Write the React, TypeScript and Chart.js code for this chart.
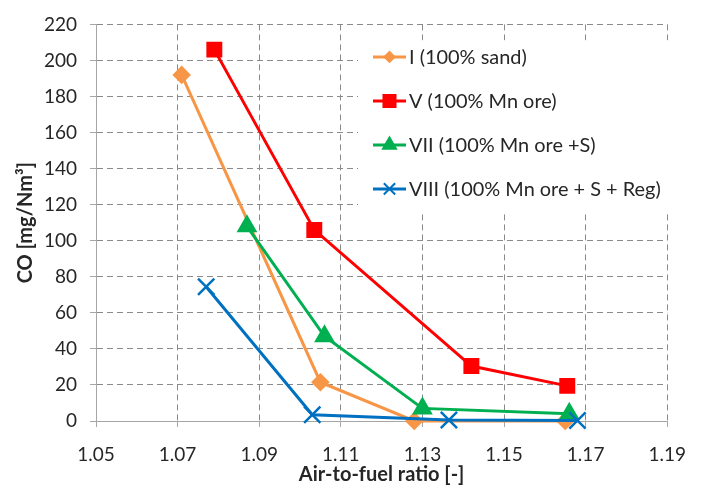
import React, { useEffect, useRef } from 'react';
import { Chart, registerables } from 'chart.js';
import { drawPoint } from 'chart.js/helpers';

Chart.register(...registerables);

// ---- data ----
const seriesLabels = [
  'I (100% sand)',
  'V (100% Mn ore)',
  'VII (100% Mn ore +S)',
  'VIII (100% Mn ore + S + Reg)',
];
const sandX = [1.071, 1.105, 1.128, 1.165];
const sandY = [192, 21.5, 0, 0];
const mnOreX = [1.079, 1.1035, 1.142, 1.1655];
const mnOreY = [206, 106, 30.5, 19.5];
const mnOreSX = [1.087, 1.106, 1.13, 1.166];
const mnOreSY = [108, 47, 7, 4];
const mnOreSRegX = [1.077, 1.103, 1.1365, 1.168];
const mnOreSRegY = [74.5, 3.5, 0.5, 0.3];

const xMin = 1.05;
const xMax = 1.19;
const xStep = 0.02;
const yMin = 0;
const yMax = 220;
const yStep = 20;

const xTitle = 'Air-to-fuel ratio [-]';
const yTitle = 'CO [mg/Nm³]';

const colors = ['#F79646', '#FF0000', '#00B050', '#0070C0'];
const pointStyles = ['rectRot', 'rect', 'triangle', 'crossRot'];
const pointRadii = [7.5, 9.5, 9.5, 11.5];
const legendRadii = [5, 8.5, 7.5, 8];

const FONT = 'Lato, "Open Sans", sans-serif';

function toPoints(xs: number[], ys: number[]) {
  return xs.map((x, i) => ({ x, y: ys[i] }));
}

const legendPlugin = {
  id: 'boxLegend',
  afterDraw(chart: any) {
    const ctx = chart.ctx as CanvasRenderingContext2D;
    const area = chart.chartArea;
    const boxLeft = area.left + 262;
    const boxTop = area.top + 16;
    const boxW = 318;
    const boxH = 172;
    ctx.save();
    ctx.fillStyle = '#ffffff';
    ctx.fillRect(boxLeft, boxTop, boxW, boxH);

    const longest = seriesLabels[3];
    ctx.font = `100px ${FONT}`;
    const w100 = ctx.measureText(longest).width;
    const fs = (100 * 252) / w100;

    seriesLabels.forEach((label, i) => {
      const cy = boxTop + 16.5 + i * 44;
      const lx0 = boxLeft + 15;
      const lx1 = boxLeft + 48;
      ctx.strokeStyle = colors[i];
      ctx.lineWidth = 3;
      ctx.setLineDash([]);
      ctx.beginPath();
      ctx.moveTo(lx0, cy);
      ctx.lineTo(lx1, cy);
      ctx.stroke();
      ctx.fillStyle = colors[i];
      ctx.strokeStyle = colors[i];
      ctx.lineWidth = 2;
      drawPoint(
        ctx,
        { pointStyle: pointStyles[i] as any, radius: legendRadii[i], rotation: 0, borderWidth: 2 } as any,
        (lx0 + lx1) / 2,
        cy
      );
      ctx.fillStyle = '#262626';
      ctx.font = `${fs}px ${FONT}`;
      ctx.textAlign = 'left';
      ctx.textBaseline = 'middle';
      ctx.fillText(label, lx1 + 3, cy + 1);
    });
    ctx.restore();
  },
};

export default function App() {
  const ref = useRef<HTMLCanvasElement | null>(null);

  useEffect(() => {
    if (!ref.current) return;
    const xs = [sandX, mnOreX, mnOreSX, mnOreSRegX];
    const ys = [sandY, mnOreY, mnOreSY, mnOreSRegY];
    const orders = [3, 2, 1, 0];
    const datasets = seriesLabels.map((label, i) => ({
      label,
      data: toPoints(xs[i], ys[i]),
      borderColor: colors[i],
      backgroundColor: colors[i],
      pointBackgroundColor: colors[i],
      pointBorderColor: colors[i],
      pointStyle: pointStyles[i],
      pointRadius: pointRadii[i],
      pointBorderWidth: 2.5,
      borderWidth: 3,
      showLine: true,
      tension: 0,
      clip: false as any,
      order: orders[i],
    }));

    const gridColor = '#8a8a8a';
    const axisColor = '#a6a6a6';

    const chart = new Chart(ref.current, {
      type: 'scatter',
      data: { datasets },
      plugins: [legendPlugin],
      options: {
        responsive: false,
        animation: false,
        maintainAspectRatio: false,
        layout: { padding: { left: 0, right: 22, top: 17, bottom: 0 } },
        plugins: {
          legend: { display: false },
          tooltip: { enabled: false },
        },
        scales: {
          x: {
            type: 'linear',
            min: xMin,
            max: xMax,
            ticks: {
              stepSize: xStep,
              padding: 16,
              color: '#262626',
              font: { family: FONT, size: 19 },
              callback: (v: any) => Number(v).toFixed(2),
              maxRotation: 0,
              autoSkip: false,
            },
            grid: {
              color: gridColor,
              lineWidth: 1,
              drawTicks: true,
              tickLength: 6,
              tickColor: axisColor,
              tickBorderDash: [],
            } as any,
            border: { display: true, color: axisColor, width: 1, dash: [6, 4] } as any,
            title: {
              display: true,
              text: xTitle,
              color: '#262626',
              font: { family: FONT, size: 20, weight: 'bold' },
              padding: { top: 0, bottom: 1 },
            },
            afterFit: (s: any) => {
              s.height = 67;
            },
          },
          y: {
            type: 'linear',
            min: yMin,
            max: yMax,
            ticks: {
              stepSize: yStep,
              padding: 13,
              color: '#262626',
              font: { family: FONT, size: 19 },
            },
            grid: {
              color: gridColor,
              lineWidth: 1,
              drawTicks: true,
              tickLength: 6,
              tickColor: axisColor,
              tickBorderDash: [],
            } as any,
            border: { display: true, color: axisColor, width: 1, dash: [6, 4] } as any,
            title: {
              display: true,
              text: yTitle,
              color: '#262626',
              font: { family: FONT, size: 20, weight: 'bold' },
              padding: { top: 14, bottom: 0 },
            },
            afterFit: (s: any) => {
              s.width = 96;
            },
          },
        },
      },
    } as any);

    return () => chart.destroy();
  }, []);

  return (
    <div style={{ position: 'fixed', left: 0, top: 0, width: 702, height: 488, background: '#fff' }}>
      <canvas ref={ref} width={702} height={488} style={{ width: 702, height: 488, display: 'block' }} />
    </div>
  );
}
